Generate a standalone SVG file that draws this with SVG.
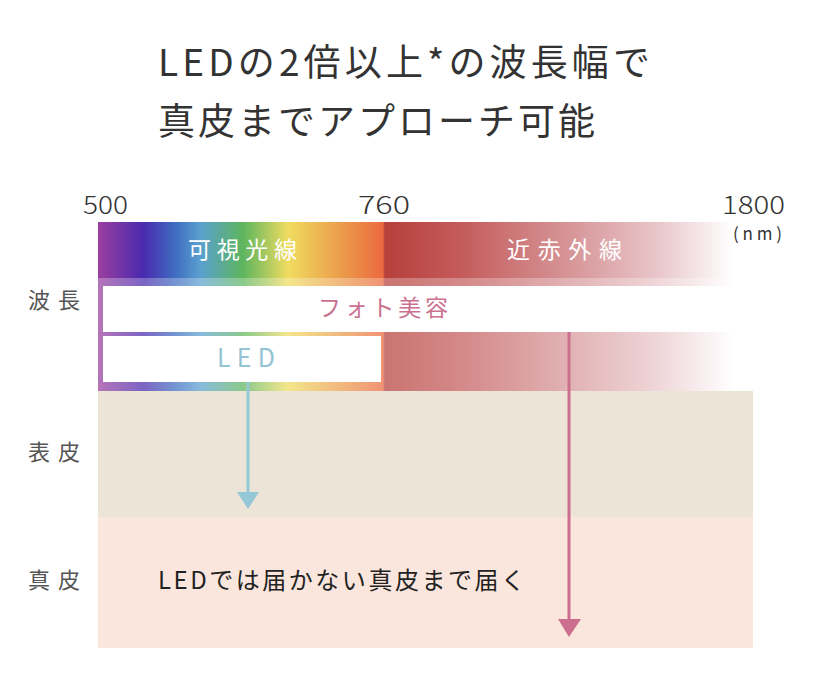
<svg xmlns="http://www.w3.org/2000/svg" width="828" height="678" viewBox="0 0 828 678">
<defs>
<style>
text{font-family:"Noto Sans CJK JP","Noto Sans",sans-serif;}
.title{font-size:37px;fill:#333;}
.axis{font-size:25px;fill:#333;font-weight:300;}
.side{font-size:22px;fill:#555;}
.band{font-size:23px;fill:#fff;}
</style>
<linearGradient id="spec" gradientUnits="userSpaceOnUse" x1="98" y1="0" x2="753" y2="0">
<stop offset="0" stop-color="#9a3f9e"/>
<stop offset="0.069" stop-color="#4a2aae"/>
<stop offset="0.118" stop-color="#3f6cc0"/>
<stop offset="0.156" stop-color="#5aa0d0"/>
<stop offset="0.221" stop-color="#5db55e"/>
<stop offset="0.290" stop-color="#f0dc60"/>
<stop offset="0.374" stop-color="#eb9a4a"/>
<stop offset="0.435" stop-color="#ec6a40"/>
<stop offset="0.438" stop-color="#b5403c"/>
<stop offset="0.55" stop-color="#c45a5a"/>
<stop offset="0.70" stop-color="#d48e90"/>
<stop offset="0.85" stop-color="#e8c4c8"/>
<stop offset="0.97" stop-color="#ffffff"/>
<stop offset="1" stop-color="#ffffff"/>
</linearGradient>
</defs>
<rect width="828" height="678" fill="#fff"/>

<g id="title">
<text class="title" x="158" y="76" textLength="492" lengthAdjust="spacing">LEDの2倍以上*の波長幅で</text>
<text class="title" x="158" y="135" textLength="437" lengthAdjust="spacing">真皮までアプローチ可能</text>
</g>

<g id="layer-epidermis"><rect x="98" y="391" width="655" height="126" fill="#ede4d8"/></g>
<g id="layer-dermis"><rect x="98" y="517" width="655" height="131" fill="#fae6dc"/></g>

<g id="spectrum">
<rect x="98" y="222" width="655" height="169" fill="url(#spec)"/>
<rect x="98" y="278" width="655" height="113" fill="#fff" opacity="0.28"/>
<text class="band" x="188" y="258" textLength="109" lengthAdjust="spacing">可視光線</text>
<text class="band" x="507" y="258" textLength="115" lengthAdjust="spacing">近赤外線</text>
</g>

<g id="axis">
<text class="axis" x="83" y="214" textLength="45" lengthAdjust="spacingAndGlyphs">500</text>
<text class="axis" x="358" y="214" textLength="52" lengthAdjust="spacingAndGlyphs">760</text>
<text class="axis" x="722" y="214" textLength="63" lengthAdjust="spacingAndGlyphs">1800</text>
<text x="733" y="240" font-size="17" fill="#333" textLength="49" lengthAdjust="spacing">(nm)</text>
</g>

<g id="side-labels">
<text class="side" x="28" y="308" textLength="52" lengthAdjust="spacing">波長</text>
<text class="side" x="28" y="460" textLength="52" lengthAdjust="spacing">表皮</text>
<text class="side" x="28" y="588" textLength="52" lengthAdjust="spacing">真皮</text>
</g>

<g id="photo-box">
<rect x="103" y="286" width="650" height="46" fill="#fff"/>
<text x="318" y="316" font-size="23" fill="#c9718f" textLength="130" lengthAdjust="spacing">フォト美容</text>
</g>

<g id="led-box">
<rect x="103" y="336" width="278" height="46" fill="#fff"/>
<text x="217" y="367" font-size="25" fill="#94c4d2" textLength="58" lengthAdjust="spacing">LED</text>
</g>

<g id="connectors">
<line x1="248" y1="382" x2="248" y2="494" stroke="#94c8d6" stroke-width="3"/>
<polygon points="237,492 259,492 248,509" fill="#94c8d6"/>
<line x1="569" y1="332" x2="569" y2="621" stroke="#cc6f8e" stroke-width="3"/>
<polygon points="558,619 581,619 569,637" fill="#cc6f8e"/>
</g>

<g id="dermis-note">
<text x="158" y="589" font-size="24" fill="#222" textLength="367" lengthAdjust="spacing">LEDでは届かない真皮まで届く</text>
</g>
</svg>
